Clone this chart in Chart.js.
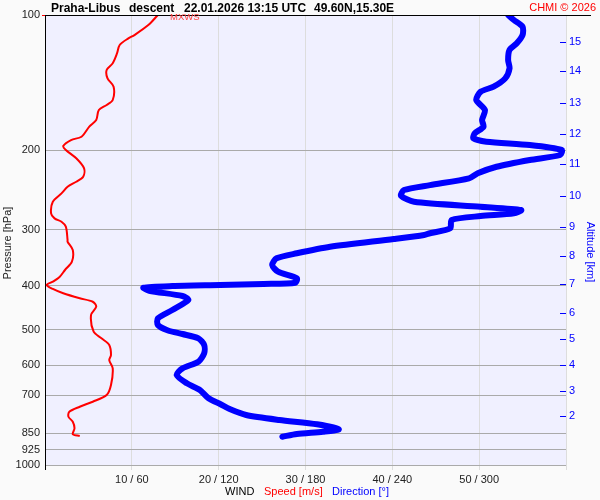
<!DOCTYPE html>
<html>
<head>
<meta charset="utf-8">
<script src="https://cdn.jsdelivr.net/npm/chart.js@4"></script>
<style>
  html, body { margin: 0; padding: 0; background: #fafafa; }
  #wrap { width: 600px; height: 500px; }
</style>
</head>
<body>
<div id="wrap"><canvas id="grafico"></canvas></div>
<script>
// wind speed profile (m/s) against pressure (hPa)
const speedPressure = [100, 105.3, 110.8, 112.7, 116.6, 121.6, 128.0, 132.5, 138.3, 144.3, 154.5, 158.5, 162.6, 171.2, 177.1, 186.4, 189.6, 195.5, 199.5, 208.2, 219.2, 228.8, 234.7, 240.8, 249.1, 260.0, 275.9, 283.1, 288.0, 295.4, 316.2, 319.0, 332.9, 353.4, 368.7, 381.5, 391.4, 398.1, 406.3, 415.4, 426.2, 433.7, 444.9, 464.2, 505.6, 523.0, 541.2, 569.6, 584.4, 609.8, 664.1, 699.0, 723.4, 742.2, 761.5, 781.2, 801.3, 828.8, 854.6, 862.1];
const speedValues = [13.0, 11.9, 10.3, 9.6, 8.6, 8.3, 7.8, 7.1, 7.2, 7.9, 7.8, 7.1, 6.2, 5.9, 5.1, 4.2, 3.0, 2.1, 2.4, 3.6, 4.5, 4.4, 3.6, 2.6, 1.9, 0.9, 0.7, 1.1, 1.9, 2.4, 2.6, 2.6, 3.2, 3.1, 2.3, 1.7, 0.9, 0.2, 0.9, 2.1, 4.0, 5.5, 5.9, 5.3, 5.6, 6.5, 7.4, 7.6, 7.4, 7.8, 7.6, 7.1, 5.5, 4.0, 2.8, 2.7, 3.2, 3.4, 3.2, 4.0];

// wind direction profile (deg) against pressure (hPa)
const dirPressure = [100, 102.6, 106.2, 110.8, 115.6, 119.6, 125.9, 131.3, 138.3, 144.3, 148.1, 154.5, 162.6, 171.2, 177.1, 183.2, 187.9, 191.2, 194.5, 199.5, 204.7, 210.0, 217.4, 224.8, 230.7, 238.8, 244.9, 252.2, 260.0, 266.7, 271.3, 275.9, 279.8, 285.5, 297.8, 305.5, 308.2, 314.6, 327.3, 338.5, 347.3, 359.4, 371.9, 384.7, 393.4, 396.0, 398.1, 400.2, 403.6, 409.9, 421.2, 429.9, 452.5, 472.1, 488.6, 502.5, 511.6, 523.0, 541.2, 564.7, 589.5, 609.8, 631.0, 658.4, 681.3, 711.0, 732.0, 752.2, 774.4, 794.3, 812.0, 833.0, 843.3, 853.3, 865.2];
const dirValues = [320, 324, 330, 330, 326, 321, 320, 321, 318, 310, 301, 298, 304, 302, 303, 297, 296, 305, 335, 357, 356, 335, 312, 299, 293, 266, 248, 246, 255, 301, 329, 324, 301, 281, 280, 266, 262, 241, 197, 174, 160, 157, 161, 174, 173, 151, 121, 88, 68, 72, 95, 99, 88, 78, 78, 85, 95, 106, 110, 110, 106, 95, 91, 98, 107, 113, 121, 128, 139, 162, 188, 203, 192, 174, 164];

// axis ticks
const pressureTicks = [100, 200, 300, 400, 500, 600, 700, 850, 925, 1000];
const speedTicks = [0, 10, 20, 30, 40, 50, 60];
const altitudeKm = [2, 3, 4, 5, 6, 7, 8, 9, 10, 11, 12, 13, 14, 15];
const altitudePressure = [778.4, 684.6, 599.5, 524.8, 459.5, 396.0, 343.2, 295.9, 252.5, 214.3, 183.8, 156.8, 133.2, 114.6];

const fonte = 'Liberation Sans, Arial, sans-serif';

const fundo = {
    id: 'fundo',
    beforeDraw(chart) {
        const c = chart.ctx, a = chart.chartArea;
        c.save();
        c.fillStyle = '#fafafa';
        c.fillRect(0, 0, chart.width, chart.height);
        c.fillStyle = '#f0f0ff';
        c.fillRect(a.left, a.top, a.right - a.left, a.bottom - a.top);
        c.restore();
    },
    afterDraw(chart) {
        const c = chart.ctx, a = chart.chartArea;
        c.save();
        // linha do topo
        c.strokeStyle = '#000';
        c.lineWidth = 1;
        c.beginPath();
        c.moveTo(a.left, 15.5);
        c.lineTo(591, 15.5);
        c.stroke();

        // marcas da altitude (para dentro)
        const alt = chart.scales.alt;
        c.strokeStyle = '#0000ff';
        c.lineWidth = 1;
        altitudePressure.forEach(p => {
            const y = Math.round(alt.getPixelForValue(p)) + 0.5;
            c.beginPath();
            c.moveTo(a.right - 6, y);
            c.lineTo(a.right, y);
            c.stroke();
        });

        // titulo
        c.textBaseline = 'alphabetic';
        c.textAlign = 'left';
        c.fillStyle = '#000';
        c.font = 'bold 12px ' + fonte;
        c.fillText('Praha-Libus', 51, 12);
        c.fillText('descent', 129, 12);
        c.fillText('22.01.2026 13:15 UTC', 184, 12);
        c.fillText('49.60N,15.30E', 314, 12);

        c.font = '11px ' + fonte;
        c.fillStyle = '#ff0000';
        c.textAlign = 'right';
        c.fillText('CHMI \u00a9 2026', 596, 11);

        c.textAlign = 'left';
        c.font = '9.5px ' + fonte;
        c.fillStyle = '#ff4040';
        c.fillText('MXWS', 170, 19.5);

        // titulo do eixo x
        c.font = '11px ' + fonte;
        c.fillStyle = '#000';
        c.fillText('WIND', 225, 495);
        c.fillStyle = '#ff0000';
        c.fillText('Speed [m/s]', 264, 495);
        c.fillStyle = '#0000ff';
        c.fillText('Direction [\u00b0]', 332, 495);

        // titulos verticais
        c.textAlign = 'center';
        c.textBaseline = 'middle';
        c.save();
        c.translate(8, 243);
        c.rotate(-Math.PI / 2);
        c.fillStyle = '#222';
        c.fillText('Pressure [hPa]', 0, 0);
        c.restore();

        c.save();
        c.translate(590, 252);
        c.rotate(Math.PI / 2);
        c.fillStyle = '#0000ff';
        c.fillText('Altitude [km]', 0, 0);
        c.restore();
        c.restore();
    }
};

const ctxVento = document.getElementById('grafico').getContext('2d');
const graficoVento = new Chart(ctxVento, {
    type: 'scatter',
    data: {
        datasets: [{
            label: 'Speed [m/s]',
            data: speedValues.map((v, i) => ({x: v, y: speedPressure[i]})),
            xAxisID: 'x',
            yAxisID: 'y',
            showLine: true,
            borderColor: '#ff0000',
            borderWidth: 2,
            pointRadius: 0,
            tension: 0.3
        }, {
            label: 'Direction [°]',
            data: dirValues.map((v, i) => ({x: v, y: dirPressure[i]})),
            xAxisID: 'dir',
            yAxisID: 'y',
            showLine: true,
            borderColor: '#0000ff',
            borderWidth: 6,
            borderCapStyle: 'round',
            borderJoinStyle: 'round',
            pointRadius: 0,
            tension: 0.25
        }]
    },
    options: {
        responsive: true,
        maintainAspectRatio: false,
        animation: false,
        layout: { padding: { top: 15, left: 0, right: 0, bottom: 0 } },
        plugins: {
            legend: { display: false },
            title: { display: false },
            tooltip: { enabled: false }
        },
        scales: {
            x: {
                type: 'linear',
                position: 'bottom',
                min: 0,
                max: 60,
                afterFit(s) { s.height = 35; },
                afterBuildTicks(s) { s.ticks = speedTicks.map(v => ({value: v})); },
                ticks: {
                    autoSkip: false,
                    maxRotation: 0,
                    padding: 3,
                    color: '#222',
                    font: { family: fonte, size: 11 },
                    callback: (v) => (v === 0 || v === 60) ? '' : v + ' / ' + (v * 6)
                },
                grid: {
                    color: (c) => c.tick && c.tick.value === 0 ? 'rgba(0,0,0,0)' : '#dddddd',
                    tickColor: (c) => c.tick && c.tick.value === 0 ? '#000' : '#dddddd',
                    tickLength: 5
                },
                border: { display: false }
            },
            dir: {
                type: 'linear',
                display: false,
                min: 0,
                max: 360
            },
            y: {
                type: 'logarithmic',
                position: 'left',
                reverse: true,
                min: 100,
                max: 1000,
                afterFit(s) { s.width = 45; },
                afterBuildTicks(s) { s.ticks = pressureTicks.map(v => ({value: v})); },
                ticks: {
                    autoSkip: false,
                    padding: 2,
                    color: '#222',
                    font: { family: fonte, size: 11 },
                    callback: (v) => String(v)
                },
                grid: {
                    color: (c) => c.tick && c.tick.value === 100 ? 'rgba(0,0,0,0)' : '#aaaaaa',
                    tickColor: (c) => c.tick && c.tick.value === 100 ? '#ff0000' : 'rgba(0,0,0,0)',
                    tickLength: 3
                },
                border: { color: '#000', width: 1 }
            },
            alt: {
                type: 'logarithmic',
                position: 'right',
                reverse: true,
                min: 100,
                max: 1000,
                afterFit(s) { s.width = 34; },
                afterBuildTicks(s) { s.ticks = altitudePressure.map(v => ({value: v})); },
                ticks: {
                    autoSkip: false,
                    padding: 3,
                    color: '#0000ff',
                    font: { family: fonte, size: 11 },
                    callback: (v, i) => String(altitudeKm[i])
                },
                grid: { drawOnChartArea: false, drawTicks: false },
                border: { color: '#dddddd', width: 1 }
            }
        }
    },
    plugins: [fundo]
});
</script>
</body>
</html>
